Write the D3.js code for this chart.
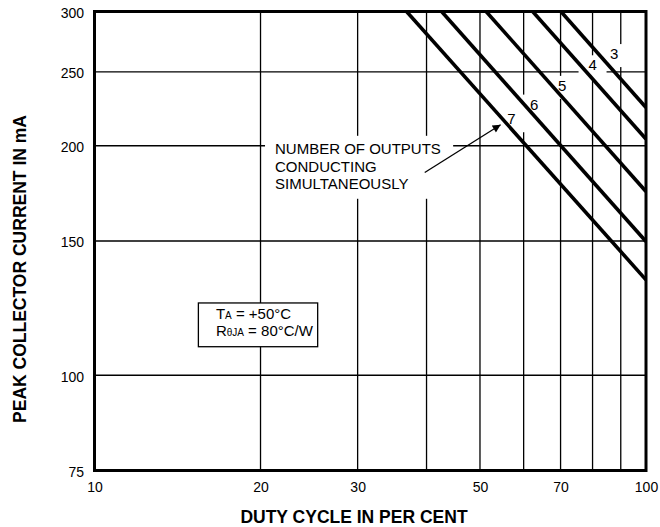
<!DOCTYPE html>
<html>
<head>
<meta charset="utf-8">
<script src="https://cdn.jsdelivr.net/npm/d3@7/dist/d3.min.js"></script>
<style>
  html, body { margin: 0; padding: 0; background: #fff; }
  svg { display: block; font-family: "Liberation Sans", Arial, Helvetica, sans-serif; }
</style>
</head>
<body>
<svg id="chart" width="660" height="527"></svg>
<script>
// ---- data ----
const xTickValues = [10, 20, 30, 50, 70, 100];
const yTickValues = [75, 100, 150, 200, 250, 300];
const xGridValues = [20, 30, 40, 50, 60, 70, 80, 90];
const yGridValues = [100, 150, 200, 250];
const outputs = [3, 4, 5, 6, 7];
const startDuty = [70.1, 62.3, 51.3, 42.6, 36.8];      // duty cycle where line meets 300 mA
const startCurrent = [300, 300, 300, 300, 300];
const endDuty = [100, 100, 100, 100, 100];
const endCurrent = [224.5, 204.1, 174.2, 149.8, 133.4]; // current at 100 % duty
const labelDuty = [87.6, 80.0, 70.5, 62.7, 57.0];
const labelCurrent = [264.2, 255.4, 240.0, 226.8, 217.0];
const noteLines = ["NUMBER OF OUTPUTS", "CONDUCTING", "SIMULTANEOUSLY"];
const noteBox = { d0: 20.38, d1: 44.7, c0: 206.1, c1: 170.4 };
const noteText = { d: 21.25, c: 195.0 };
const arrowFrom = { d: 39.7, c: 184.5 };
const arrowTo = { d: 54.5, c: 213.1 };
const condBox = { d0: 15.43, d1: 25.39, c0: 124.4, c1: 109.0 };
const condText = { d: 16.6, c: 118.5 };
const xTitle = "DUTY CYCLE IN PER CENT";
const yTitle = "PEAK COLLECTOR CURRENT IN mA";

// ---- layout ----
const L = 94.5, R = 646, T = 11.5, B = 470.5;
const x = d3.scaleLog().domain([10, 100]).range([L, R]);
const y = d3.scaleLog().domain([75, 300]).range([B, T]);

const svg = d3.select("#chart");
svg.append("defs").append("clipPath").attr("id", "plotclip")
  .append("rect").attr("x", L).attr("y", T).attr("width", R - L).attr("height", B - T);

svg.append("defs").append("marker")
  .attr("id", "arrowhead").attr("viewBox", "0 0 10 10")
  .attr("refX", 10).attr("refY", 5)
  .attr("markerWidth", 13).attr("markerHeight", 8)
  .attr("markerUnits", "userSpaceOnUse")
  .attr("orient", "auto")
  .append("path").attr("d", "M0,0 L10,5 L0,10 Z").attr("fill", "#000");

// grid
const grid = svg.append("g").attr("stroke", "#000").attr("stroke-width", 1.3);
grid.selectAll(".vx").data(xGridValues).join("line")
  .attr("x1", d => x(d)).attr("x2", d => x(d)).attr("y1", T).attr("y2", B);
grid.selectAll(".hy").data(yGridValues).join("line")
  .attr("x1", L).attr("x2", R).attr("y1", d => y(d)).attr("y2", d => y(d));

// axes (tick labels only)
const xAxis = d3.axisBottom(x).tickValues(xTickValues).tickFormat(d3.format("d")).tickSize(0).tickPadding(12);
const gx = svg.append("g").attr("transform", `translate(0,${B})`).call(xAxis);
gx.select(".domain").remove();
gx.selectAll("text").attr("font-size", 14).attr("font-family", "Liberation Sans, Arial, sans-serif").attr("fill", "#000");

const yAxis = d3.axisLeft(y).tickValues(yTickValues).tickFormat(d3.format("d")).tickSize(0).tickPadding(10.5);
const gy = svg.append("g").attr("transform", `translate(${L},0)`).call(yAxis);
gy.select(".domain").remove();
gy.selectAll("text").attr("font-size", 14).attr("font-family", "Liberation Sans, Arial, sans-serif").attr("fill", "#000")
  .attr("dy", "0.42em");

// label white boxes (break grid)
const labels = outputs.map((n, i) => ({ n, d: labelDuty[i], c: labelCurrent[i] }));
svg.append("g").selectAll("rect").data(labels).join("rect")
  .attr("x", d => x(d.d) - 14).attr("y", d => y(d.c) - 9.5)
  .attr("width", 28).attr("height", 23).attr("fill", "#fff");

// note box (white)
svg.append("rect")
  .attr("x", x(noteBox.d0)).attr("y", y(noteBox.c0))
  .attr("width", x(noteBox.d1) - x(noteBox.d0)).attr("height", y(noteBox.c1) - y(noteBox.c0))
  .attr("fill", "#fff");

// curves
const lineData = outputs.map((n, i) => [[startDuty[i], startCurrent[i]], [endDuty[i], endCurrent[i]]]);
const lineGen = d3.line().x(d => x(d[0])).y(d => y(d[1]));
svg.append("g").attr("clip-path", "url(#plotclip)")
  .selectAll("path").data(lineData).join("path")
  .attr("d", lineGen).attr("fill", "none").attr("stroke", "#000").attr("stroke-width", 3.6);

// curve number labels
svg.append("g").selectAll("text").data(labels).join("text")
  .attr("x", d => x(d.d)).attr("y", d => y(d.c)).attr("dy", "0.36em")
  .attr("text-anchor", "middle").attr("font-size", 15).text(d => d.n);

// note text
const nt = svg.append("text").attr("x", x(noteText.d)).attr("y", y(noteText.c)).attr("font-size", 15);
noteLines.forEach((s, i) => nt.append("tspan").attr("x", x(noteText.d)).attr("dy", i === 0 ? 0 : 17.5).text(s));

// arrow
svg.append("line")
  .attr("x1", x(arrowFrom.d)).attr("y1", y(arrowFrom.c))
  .attr("x2", x(arrowTo.d)).attr("y2", y(arrowTo.c))
  .attr("stroke", "#000").attr("stroke-width", 1.3).attr("marker-end", "url(#arrowhead)");

// conditions box
svg.append("rect")
  .attr("x", x(condBox.d0)).attr("y", y(condBox.c0))
  .attr("width", x(condBox.d1) - x(condBox.d0)).attr("height", y(condBox.c1) - y(condBox.c0))
  .attr("fill", "#fff").attr("stroke", "#000").attr("stroke-width", 1.3);
const ct = svg.append("text").attr("x", x(condText.d)).attr("y", y(condText.c)).attr("font-size", 15);
ct.append("tspan").text("T");
ct.append("tspan").attr("font-size", 10).text("A");
ct.append("tspan").text(" = +50°C");
const ct2 = svg.append("text").attr("x", x(condText.d)).attr("y", y(condText.c) + 16.7).attr("font-size", 15);
ct2.append("tspan").text("R");
ct2.append("tspan").attr("font-size", 10).text("θJA");
ct2.append("tspan").text(" = 80°C/W");

// border
svg.append("rect").attr("x", L).attr("y", T).attr("width", R - L).attr("height", B - T)
  .attr("fill", "none").attr("stroke", "#000").attr("stroke-width", 3);

// titles
svg.append("text").attr("x", 354).attr("y", 523).attr("text-anchor", "middle")
  .attr("font-size", 17.5).attr("font-weight", "bold").text(xTitle);
svg.append("text").attr("transform", "translate(26,269) rotate(-90)").attr("text-anchor", "middle")
  .attr("font-size", 17.5).attr("font-weight", "bold").text(yTitle);
</script>
</body>
</html>
